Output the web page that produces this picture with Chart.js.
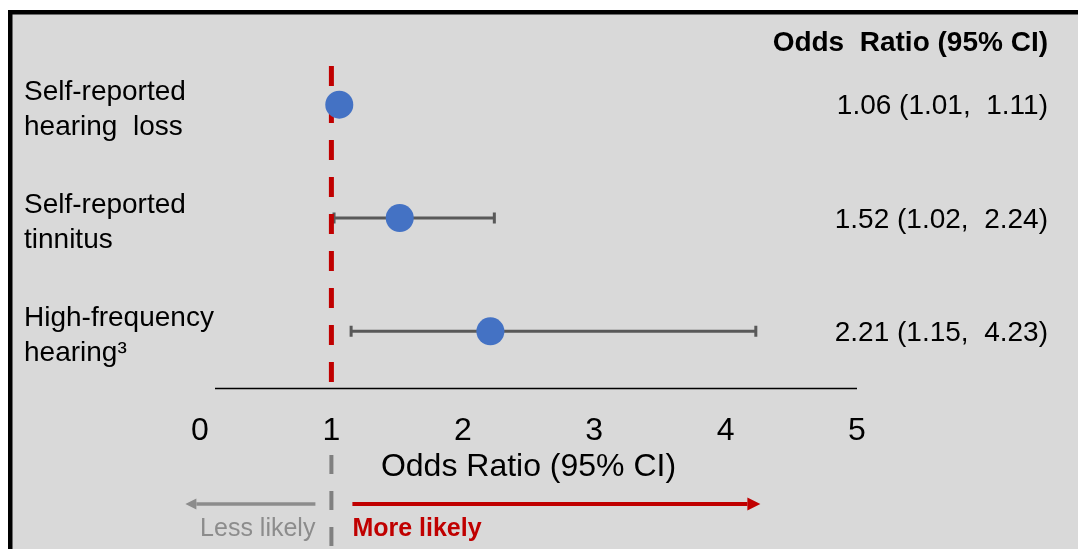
<!DOCTYPE html>
<html>
<head>
<meta charset="utf-8">
<title>Odds Ratio (95% CI)</title>
<script src="https://cdn.jsdelivr.net/npm/chart.js@4/dist/chart.umd.min.js"></script>
<style>
  html, body { margin: 0; padding: 0; background: #ffffff; }
  #wrap { width: 1078px; height: 549px; }
</style>
</head>
<body>
<div id="wrap"><canvas id="forest" width="1078" height="549"></canvas></div>
<script>
// Outcomes (two-line labels), odds ratios and 95% confidence limits
const outcomeLines = [
  ["Self-reported", "hearing  loss"],
  ["Self-reported", "tinnitus"],
  ["High-frequency", "hearing\u00B3"]
];
const oddsRatios = [1.06, 1.52, 2.21];
const ciLower = [1.01, 1.02, 1.15];
const ciUpper = [1.11, 2.24, 4.23];
const xTicks = [0, 1, 2, 3, 4, 5];
const referenceValue = 1;

const FONT = '"Liberation Sans", Arial, Helvetica, sans-serif';
const BG = '#d9d9d9';
const RED = '#c00000';
const GREY_ARROW = '#8c8c8c';
const BAR = '#595959';
const DOT = '#4472c4';

const rowIndex = oddsRatios.map((_, i) => i + 1);
const points = oddsRatios.map((v, i) => ({ x: v, y: rowIndex[i] }));

const fmt = v => v.toFixed(2);
const ciText = oddsRatios.map((v, i) => `${fmt(v)} (${fmt(ciLower[i])},  ${fmt(ciUpper[i])})`);

// Panel background and frame
const panelPlugin = {
  id: 'panel',
  beforeDraw(chart) {
    const { ctx, width, height } = chart;
    ctx.save();
    ctx.fillStyle = '#ffffff';
    ctx.fillRect(0, 0, width, height);
    ctx.fillStyle = BG;
    ctx.fillRect(8, 10, width - 8, height - 10);
    ctx.fillStyle = '#000000';
    ctx.fillRect(8, 10, width - 8, 4.5);
    ctx.fillRect(8, 10, 4.5, height - 10);
    ctx.restore();
  }
};

// Reference line, confidence bars, axis line and direction arrows
const forestPlugin = {
  id: 'forest',
  beforeDatasetsDraw(chart) {
    const { ctx, chartArea, scales: { x, y } } = chart;
    ctx.save();

    // horizontal axis line
    ctx.strokeStyle = '#000000';
    ctx.lineWidth = 1.5;
    ctx.beginPath();
    ctx.moveTo(chartArea.left + 15, chartArea.bottom + 0.5);
    ctx.lineTo(chartArea.right, chartArea.bottom + 0.5);
    ctx.stroke();

    // confidence intervals
    ctx.strokeStyle = BAR;
    ctx.lineWidth = 3;
    oddsRatios.forEach((_, i) => {
      const yp = y.getPixelForValue(rowIndex[i]);
      const x0 = x.getPixelForValue(ciLower[i]);
      const x1 = x.getPixelForValue(ciUpper[i]);
      ctx.beginPath();
      ctx.moveTo(x0, yp);
      ctx.lineTo(x1, yp);
      ctx.moveTo(x0, yp - 5.5);
      ctx.lineTo(x0, yp + 5.5);
      ctx.moveTo(x1, yp - 5.5);
      ctx.lineTo(x1, yp + 5.5);
      ctx.stroke();
    });

    // no-effect line at OR = 1
    const xr = x.getPixelForValue(referenceValue);
    ctx.strokeStyle = RED;
    ctx.lineWidth = 5;
    ctx.setLineDash([20, 17]);
    ctx.beginPath();
    ctx.moveTo(xr, chartArea.top + 18);
    ctx.lineTo(xr, chartArea.bottom - 5);
    ctx.stroke();

    // its grey continuation below the axis
    ctx.strokeStyle = '#808080';
    ctx.lineWidth = 4;
    ctx.setLineDash([19, 17]);
    ctx.beginPath();
    ctx.moveTo(xr, 455);
    ctx.lineTo(xr, 560);
    ctx.stroke();
    ctx.setLineDash([]);

    // direction arrows
    const ay = 504;
    const drawArrow = (xa, xb, color, lw, headLen, headHalf) => {
      const dir = Math.sign(xb - xa);
      ctx.strokeStyle = color;
      ctx.fillStyle = color;
      ctx.lineWidth = lw;
      ctx.beginPath();
      ctx.moveTo(xa, ay);
      ctx.lineTo(xb - dir * headLen, ay);
      ctx.stroke();
      ctx.beginPath();
      ctx.moveTo(xb, ay);
      ctx.lineTo(xb - dir * headLen, ay - headHalf);
      ctx.lineTo(xb - dir * headLen, ay + headHalf);
      ctx.closePath();
      ctx.fill();
    };
    drawArrow(xr - 16, xr - 146, GREY_ARROW, 3.5, 11, 5.5);
    drawArrow(xr + 21, xr + 429, RED, 4, 13, 6.5);

    ctx.restore();
  },
  afterDraw(chart) {
    const { ctx, scales: { x, y } } = chart;
    const xr = x.getPixelForValue(referenceValue);
    ctx.save();
    ctx.fillStyle = '#000000';

    // outcome labels
    ctx.font = `28px ${FONT}`;
    ctx.textAlign = 'left';
    ctx.textBaseline = 'alphabetic';
    outcomeLines.forEach((lines, i) => {
      const yp = y.getPixelForValue(rowIndex[i]);
      ctx.fillText(lines[0], 24, yp - 5);
      ctx.fillText(lines[1], 24, yp + 30);
    });

    // estimate column
    ctx.textAlign = 'right';
    ctx.textBaseline = 'middle';
    ctx.font = `bold 28px ${FONT}`;
    ctx.fillText('Odds  Ratio (95% CI)', 1048, 43);
    ctx.font = `28px ${FONT}`;
    ciText.forEach((t, i) => {
      const yp = y.getPixelForValue(rowIndex[i]);
      ctx.fillText(t, 1048, yp + 2);
    });

    // arrow captions
    ctx.textBaseline = 'middle';
    ctx.textAlign = 'right';
    ctx.font = `25px ${FONT}`;
    ctx.fillStyle = GREY_ARROW;
    ctx.fillText('Less likely', xr - 16, 529);
    ctx.textAlign = 'left';
    ctx.font = `bold 25px ${FONT}`;
    ctx.fillStyle = RED;
    ctx.fillText('More likely', xr + 21, 529);

    ctx.restore();
  }
};

new Chart(document.getElementById('forest'), {
  type: 'scatter',
  data: {
    datasets: [{
      data: points,
      pointRadius: 14,
      pointHoverRadius: 14,
      pointBackgroundColor: DOT,
      pointBorderWidth: 0,
      showLine: false
    }]
  },
  options: {
    responsive: false,
    devicePixelRatio: 1,
    animation: false,
    events: [],
    layout: { padding: { left: 200, right: 221, top: 48, bottom: 0 } },
    plugins: { legend: { display: false }, tooltip: { enabled: false } },
    scales: {
      x: {
        type: 'linear',
        min: xTicks[0],
        max: xTicks[xTicks.length - 1],
        afterBuildTicks: s => { s.ticks = xTicks.map(v => ({ value: v })); },
        afterFit: s => { s.height = 161; },
        grid: { display: false },
        border: { display: false },
        ticks: {
          color: '#000000',
          font: { family: FONT, size: 32 },
          padding: 16,
          maxRotation: 0,
          autoSkip: false
        },
        title: {
          display: true,
          text: 'Odds Ratio (95% CI)',
          color: '#000000',
          font: { family: FONT, size: 32 },
          padding: { top: 0, bottom: 63 }
        }
      },
      y: {
        type: 'linear',
        min: 0.5,
        max: 3.5,
        reverse: true,
        display: false
      }
    }
  },
  plugins: [panelPlugin, forestPlugin]
});
</script>
</body>
</html>
